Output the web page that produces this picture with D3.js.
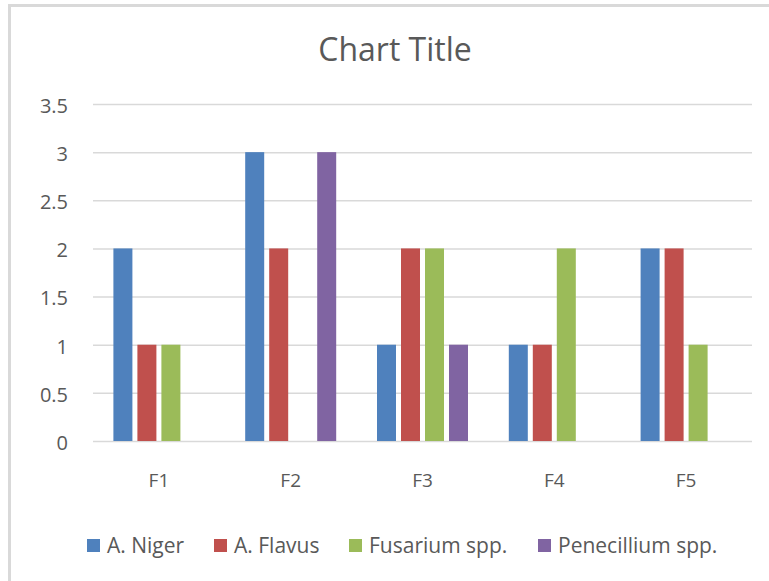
<!DOCTYPE html>
<html><head><meta charset="utf-8">
<script src="https://cdn.jsdelivr.net/npm/d3@7"></script>
<style>body{margin:0;background:#fff}svg{display:block}text{font-family:"Open Sans","Liberation Sans",sans-serif;fill:#595959}</style>
</head><body><svg id="c" width="769" height="581"></svg>
<script>
const categories = ["F1","F2","F3","F4","F5"];
const seriesNames = ["A. Niger","A. Flavus","Fusarium spp.","Penecillium spp."];
const aNiger = [2,3,1,1,2];
const aFlavus = [1,2,2,1,2];
const fusarium = [1,0,2,2,1];
const penecillium = [0,3,1,0,0];
const yTicks = [0,0.5,1,1.5,2,2.5,3,3.5];
const colors = ["#4F81BD","#C0504D","#9BBB59","#8064A2"];
const seriesValues = [aNiger,aFlavus,fusarium,penecillium];

const svg = d3.select("#c");
svg.append("rect").attr("x",9.5).attr("y",5.5).attr("width",780).attr("height",600)
  .attr("fill","#fff").attr("stroke","#d9d9d9").attr("stroke-width",3);

const L=93,R=752,T=104,B=441;
const y = d3.scaleLinear().domain([0,3.5]).range([B,T]);
const x0 = d3.scaleBand().domain(categories).range([L,R]).paddingInner(0);
const bw0 = x0.bandwidth();
const groupW = 91;
const x1 = d3.scaleBand().domain(seriesNames).range([(bw0-groupW)/2,(bw0+groupW)/2]).paddingInner(5/24);

svg.append("text").attr("x",395).attr("y",61).attr("text-anchor","middle")
  .style("font-size","32px").text("Chart Title");

const yAxis = d3.axisLeft(y).tickValues(yTicks).tickSize(-(R-L)).tickPadding(25).tickFormat(d=>String(d));
const ga = svg.append("g").attr("transform",`translate(${L},0)`).call(yAxis);
ga.select(".domain").remove();
ga.selectAll(".tick line").attr("stroke","#d9d9d9").attr("stroke-width",1.5);
ga.selectAll(".tick text").style("font-size","20px").attr("dy","0.42em").style("fill","#595959");

const xAxis = d3.axisBottom(x0).tickSize(0).tickPadding(0);
const gx = svg.append("g").attr("transform",`translate(0,${B})`).call(xAxis);
gx.select(".domain").remove();
gx.selectAll(".tick text").style("font-size","19px").attr("dy",null).attr("y",46).style("fill","#595959");

const rows = categories.map((c,i)=>({c, vals: seriesNames.map((s,j)=>({s,v:seriesValues[j][i],j}))}));
const g = svg.append("g").selectAll("g").data(rows).join("g")
  .attr("transform",d=>`translate(${x0(d.c)},0)`);
g.selectAll("rect").data(d=>d.vals.filter(e=>e.v>0)).join("rect")
  .attr("x",d=>x1(d.s)).attr("width",x1.bandwidth())
  .attr("y",d=>y(d.v)).attr("height",d=>y(0)-y(d.v))
  .attr("fill",d=>colors[d.j]);

const legX = [87,214,349,538];
const lg = svg.append("g").selectAll("g").data(seriesNames).join("g")
  .attr("transform",(d,i)=>`translate(${legX[i]},539)`);
lg.append("rect").attr("width",13).attr("height",13).attr("fill",(d,i)=>colors[i]);
lg.append("text").attr("x",20).attr("y",14).style("font-size","21px").text(d=>d);
</script></body></html>
